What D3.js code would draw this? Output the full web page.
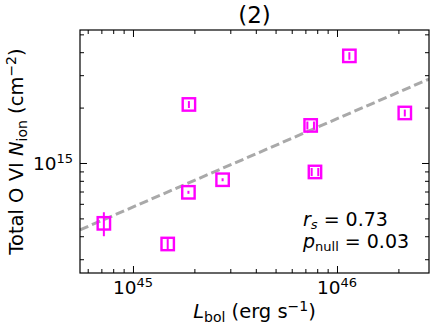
<!DOCTYPE html>
<html>
<head>
<meta charset="utf-8">
<script src="https://cdn.jsdelivr.net/npm/d3@7"></script>
<style>
  body { margin: 0; background: #fff; }
  svg { font-family: "DejaVu Sans", sans-serif; }
  .axis path, .axis line { stroke: #000; }
</style>
</head>
<body>
<svg id="chart"></svg>
<script>
"use strict";
// bolometric luminosity (erg/s) and total O VI column (cm^-2)
const lbol    = [7.2e44, 1.48e45, 1.87e45, 1.88e45, 2.75e45, 7.43e45, 7.8e45, 1.15e46, 2.15e46];
const nion    = [4.7e14, 3.63e14, 6.93e14, 2.08e15, 8.11e14, 1.60e15, 8.94e14, 3.82e15, 1.87e15];
const nionErr = [0.7e14, 0.23e14, 0.13e14, 0.09e15, 0.15e14, 0.08e15, 0.45e14, 0.18e15, 0.08e15];
const nComp   = [1, 1, 1, 1, 1, 2, 2, 1, 1];

// fitted relation, end points
const fitL = [5.5e44, 2.825e46];
const fitN = [4.33e14, 2.86e15];

const xMajor = [1e45, 1e46];
const xMinor = [6e44, 7e44, 8e44, 9e44, 2e45, 3e45, 4e45, 5e45, 6e45, 7e45, 8e45, 9e45, 2e46];
const yMajor = [1e15];
const yMinor = [3e14, 4e14, 5e14, 6e14, 7e14, 8e14, 9e14, 2e15, 3e15, 4e15, 5e15];

const title = "(2)";
const stats = [["r", "s", " = 0.73", true], ["p", "null", " = 0.03", false]];

const margin = {top: 30, right: 4, bottom: 57, left: 80},
    width  = 433 - margin.left - margin.right,
    height = 330 - margin.top - margin.bottom;

const svg = d3.select("#chart")
        .attr("width", width + margin.left + margin.right)
        .attr("height", height + margin.top + margin.bottom)
    .append("g")
        .attr("transform", "translate(" + margin.left + "," + margin.top + ")");

const xScale = d3.scaleLog().domain([5.5e44, 2.825e46]).range([0, width]);
const yScale = d3.scaleLog().domain([2.525e14, 5.28e15]).range([height, 0]);

svg.append("clipPath").attr("id", "clip")
  .append("rect").attr("width", width).attr("height", height);

// fit line
svg.append("path")
    .attr("clip-path", "url(#clip)")
    .attr("d", d3.line().x(d => xScale(d[0])).y(d => yScale(d[1]))(d3.zip(fitL, fitN)))
    .attr("fill", "none")
    .attr("stroke", "#a9a9a9")
    .attr("stroke-width", 3)
    .attr("stroke-dasharray", "9,4");

// points
const data = lbol.map((l, i) => ({l: l, n: nion[i], e: nionErr[i], k: nComp[i]}));
const pts = svg.selectAll(".pt").data(data).enter().append("g")
    .attr("transform", d => "translate(" + xScale(d.l) + "," + yScale(d.n) + ")");
pts.append("rect")
    .attr("x", -6.2).attr("y", -6.2).attr("width", 12.4).attr("height", 12.4)
    .attr("fill", "none").attr("stroke", "#ff00ff").attr("stroke-width", 2.4);
pts.each(function(d) {
    const g = d3.select(this);
    const offs = d.k === 2 ? [-3.3, 3.3] : [0];
    const y0 = yScale(d.n + d.e) - yScale(d.n), y1 = yScale(d.n - d.e) - yScale(d.n);
    offs.forEach(o => {
        g.append("line").attr("x1", o).attr("x2", o)
            .attr("y1", Math.min(y0, -1.2)).attr("y2", Math.max(y1, 1.2))
            .attr("stroke", "#ff00ff").attr("stroke-width", 2);
    });
});

// axes, ticks pointing in on all sides
function ticks(axisFn, vals, size, tr) {
    const g = svg.append("g").attr("class", "axis")
        .call(axisFn.tickValues(vals).tickSize(-size).tickFormat(""));
    if (tr) g.attr("transform", tr);
    g.select(".domain").remove();
    g.selectAll("line").attr("stroke-width", 1);
}
ticks(d3.axisBottom(xScale), xMajor, 7, `translate(0,${height})`);
ticks(d3.axisBottom(xScale), xMinor, 4, `translate(0,${height})`);
ticks(d3.axisTop(xScale), xMajor, 7);
ticks(d3.axisTop(xScale), xMinor, 4);
ticks(d3.axisLeft(yScale), yMajor, 7);
ticks(d3.axisLeft(yScale), yMinor, 4);
ticks(d3.axisRight(yScale), yMajor, 7, `translate(${width},0)`);
ticks(d3.axisRight(yScale), yMinor, 4, `translate(${width},0)`);

svg.append("rect")
    .attr("width", width).attr("height", height)
    .attr("fill", "none").attr("stroke", "#000").attr("stroke-width", 1.2);

// tick labels 10^n
function powLabel(x, y, anchor, v) {
    const t = svg.append("text")
        .attr("x", x).attr("y", y)
        .attr("text-anchor", anchor).style("font-size", "18.5px");
    t.append("tspan").text("10");
    t.append("tspan").attr("dy", -7).style("font-size", "13px").text(Math.round(Math.log10(v)));
}
xMajor.forEach(v => powLabel(xScale(v), height + 21, "middle", v));
yMajor.forEach(v => powLabel(-7, yScale(v) + 7, "end", v));

// title
svg.append("text")
    .attr("x", width / 2).attr("y", -7)
    .attr("text-anchor", "middle")
    .style("font-size", "23px")
    .text(title);

// x label
const xl = svg.append("text")
    .attr("x", width / 2).attr("y", height + 45)
    .attr("text-anchor", "middle").style("font-size", "19.5px");
xl.append("tspan").style("font-style", "italic").text("L");
xl.append("tspan").attr("dy", 4).style("font-size", "14px").text("bol");
xl.append("tspan").attr("dy", -4).text(" (erg s");
xl.append("tspan").attr("dy", -7).style("font-size", "14px").text("\u22121");
xl.append("tspan").attr("dy", 7).text(")");

// y label
const yl = svg.append("text")
    .attr("transform", `translate(${-57},${height / 2}) rotate(-90)`)
    .attr("text-anchor", "middle").style("font-size", "19.5px");
yl.append("tspan").text("Total O VI ");
yl.append("tspan").style("font-style", "italic").text("N");
yl.append("tspan").attr("dy", 4).style("font-size", "14px").text("ion");
yl.append("tspan").attr("dy", -4).text(" (cm");
yl.append("tspan").attr("dy", -7).style("font-size", "14px").text("\u22122");
yl.append("tspan").attr("dy", 7).text(")");

// correlation stats
stats.forEach((s, i) => {
    const t = svg.append("text")
        .attr("x", 223).attr("y", 196 + i * 22)
        .style("font-size", "19px");
    t.append("tspan").style("font-style", "italic").text(s[0]);
    t.append("tspan").attr("dy", 3).style("font-size", "13px")
        .style("font-style", s[3] ? "italic" : "normal").text(s[1]);
    t.append("tspan").attr("dy", -3).text(s[2]);
});
</script>
</body>
</html>
